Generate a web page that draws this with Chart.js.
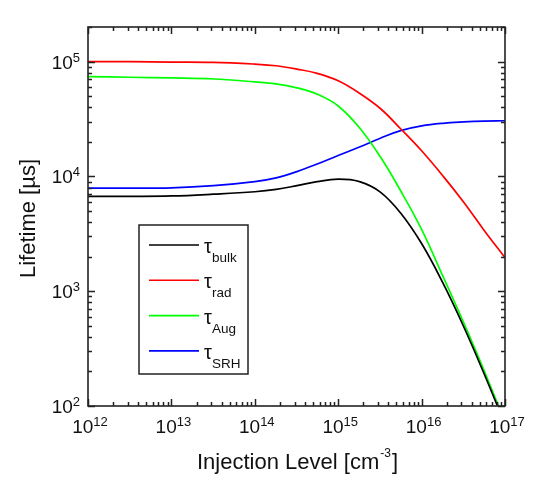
<!DOCTYPE html>
<html>
<head>
<meta charset="utf-8">
<script src="https://cdn.jsdelivr.net/npm/chart.js@4.4.1/dist/chart.umd.min.js"></script>
<style>
  body { margin: 0; background: #fff; }
  canvas { display: block; }
</style>
</head>
<body>
<canvas id="myChart" width="557" height="480"></canvas>
<script>
// injection level [cm^-3]
const injection = [1e12, 3.2e12, 1e13, 3.2e13, 1e14, 1.8e14, 3.2e14, 5.6e14, 1e15,
  1.8e15, 3.2e15, 5.6e15, 1e16, 1.8e16, 3.2e16, 5.6e16, 1e17];

// lifetimes [us]
const tauBulk = [6700, 6700, 6750, 7000, 7350, 7700, 8300, 9000, 9450, 9000, 7300, 4800, 2600, 1180, 490, 192, 69];
const tauRad = [100000, 99700, 99000, 98400, 95000, 92000, 86000, 79000, 68000, 53000, 39000, 26000, 16700, 10100, 5950, 3400, 1960];
const tauAug = [74000, 73000, 72000, 70500, 66500, 64000, 59000, 52000, 41000, 26500, 14800, 7500, 3450, 1350, 530, 205, 72];
const tauSRH = [7900, 7900, 7950, 8300, 9000, 9700, 11000, 12800, 15200, 18000, 21500, 25000, 27500, 29000, 29800, 30300, 30500];

const seriesSubs = ["bulk", "rad", "Aug", "SRH"];
const seriesValues = [tauBulk, tauRad, tauAug, tauSRH];
const seriesColors = ["#000000", "#ff0000", "#00ff00", "#0000ff"];

// decade exponents used for ticks and labels
const xDecades = [12, 13, 14, 15, 16, 17];
const yDecades = [2, 3, 4, 5];

const FONT = "'Liberation Sans', Arial, sans-serif";
const INK = "#222222";

// "10" with a raised exponent; align: 'center' or 'right' around px
function powerLabel(ctx, exp, px, baseline, align) {
  ctx.font = "19px " + FONT;
  const baseW = ctx.measureText("10").width;
  ctx.font = "13px " + FONT;
  const supW = ctx.measureText(String(exp)).width;
  const total = baseW + supW;
  const left = align === "right" ? px - total : px - total / 2;
  ctx.font = "19px " + FONT;
  ctx.fillText("10", left, baseline);
  ctx.font = "13px " + FONT;
  ctx.fillText(String(exp), left + baseW, baseline - 7);
}

const frameAndTicks = {
  id: "frameAndTicks",
  afterDatasetsDraw(chart) {
    const { ctx, chartArea: a, scales: { x, y } } = chart;
    ctx.save();
    ctx.strokeStyle = INK;
    ctx.fillStyle = INK;
    ctx.lineWidth = 1.6;
    ctx.strokeRect(a.left, a.top, a.right - a.left, a.bottom - a.top);

    // inward ticks on all four sides
    ctx.lineWidth = 1.5;
    ctx.beginPath();
    xDecades.forEach(e => {
      for (let m = 1; m <= 9; m++) {
        const v = m * Math.pow(10, e);
        if (v > x.max) break;
        const px = Math.round(x.getPixelForValue(v)) + 0.5;
        const len = m === 1 ? 7 : 4;
        ctx.moveTo(px, a.bottom); ctx.lineTo(px, a.bottom - len);
        ctx.moveTo(px, a.top); ctx.lineTo(px, a.top + len);
      }
    });
    yDecades.forEach(e => {
      for (let m = 1; m <= 9; m++) {
        const v = m * Math.pow(10, e);
        if (v > y.max) break;
        const py = Math.round(y.getPixelForValue(v)) + 0.5;
        const len = m === 1 ? 7 : 4;
        ctx.moveTo(a.left, py); ctx.lineTo(a.left + len, py);
        ctx.moveTo(a.right, py); ctx.lineTo(a.right - len, py);
      }
    });
    ctx.stroke();

    // tick labels
    ctx.fillStyle = "#111";
    ctx.textAlign = "left";
    ctx.textBaseline = "alphabetic";
    xDecades.forEach(e => {
      powerLabel(ctx, e, x.getPixelForValue(Math.pow(10, e)) + 2, a.bottom + 27, "center");
    });
    yDecades.forEach(e => {
      powerLabel(ctx, e, a.left - 8, y.getPixelForValue(Math.pow(10, e)) + 7, "right");
    });

    // axis titles
    ctx.font = "22px " + FONT;
    const t1 = "Injection Level [cm";
    const w1 = ctx.measureText(t1).width;
    ctx.font = "12px " + FONT;
    const wSup = ctx.measureText("-3").width;
    ctx.font = "22px " + FONT;
    const wEnd = ctx.measureText("]").width;
    const cx = (a.left + a.right) / 2;
    let tx = cx - (w1 + wSup + wEnd) / 2;
    const tb = a.bottom + 63;
    ctx.fillText(t1, tx, tb);
    ctx.font = "12px " + FONT;
    ctx.fillText("-3", tx + w1 + 1, tb - 12);
    ctx.font = "22px " + FONT;
    ctx.fillText("]", tx + w1 + wSup + 2, tb);

    ctx.save();
    ctx.translate(35, (a.top + a.bottom) / 2 + 2);
    ctx.rotate(-Math.PI / 2);
    ctx.textAlign = "center";
    ctx.fillText("Lifetime [\u00b5s]", 0, 0);
    ctx.restore();

    // legend box
    ctx.strokeStyle = INK;
    ctx.lineWidth = 1.5;
    ctx.fillStyle = "#fff";
    ctx.fillRect(139, 225, 109, 149);
    ctx.strokeRect(139, 225, 109, 149);
    seriesSubs.forEach((s, i) => {
      const ly = 245 + i * 35.3;
      ctx.strokeStyle = seriesColors[i];
      ctx.lineWidth = 1.6;
      ctx.beginPath();
      ctx.moveTo(149, ly); ctx.lineTo(199, ly);
      ctx.stroke();
      ctx.fillStyle = "#111";
      ctx.textAlign = "left";
      ctx.font = "20px " + FONT;
      ctx.fillText("\u03c4", 204, ly + 8);
      ctx.font = "13.5px " + FONT;
      ctx.fillText(s, 212, ly + 17);
    });
    ctx.restore();
  }
};

const ctx = document.getElementById("myChart");

new Chart(ctx, {
  type: "line",
  data: {
    datasets: seriesSubs.map((s, i) => ({
      label: "\u03c4" + s,
      data: injection.map((v, j) => ({ x: v, y: seriesValues[i][j] })),
      borderColor: seriesColors[i],
      borderWidth: 1.7,
      pointRadius: 0,
      tension: 0.4,
      fill: false,
    })),
  },
  options: {
    responsive: false,
    animation: false,
    layout: { padding: { left: 88, right: 52, top: 27, bottom: 74 } },
    scales: {
      x: { type: "logarithmic", min: 1e12, max: 1e17, display: false },
      y: { type: "logarithmic", min: 100, max: 2e5, display: false },
    },
    plugins: {
      legend: { display: false },
      tooltip: { enabled: false },
    },
  },
  plugins: [frameAndTicks],
});
</script>
</body>
</html>
